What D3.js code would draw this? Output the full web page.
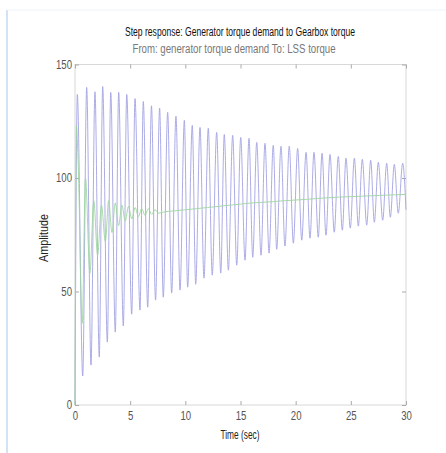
<!DOCTYPE html>
<html>
<head>
<meta charset="utf-8">
<script src="https://cdn.jsdelivr.net/npm/d3@7"></script>
<style>
  body { margin: 0; background: #fff; }
  text { font-family: "Liberation Sans", Arial, sans-serif; }
</style>
</head>
<body>
<div id="chart"></div>
<script>
// blue: peaks and troughs (time in sec, amplitude)
const bluePeakT = [0.21, 1.06, 1.81, 2.51, 3.24, 3.96, 4.69, 5.44, 6.19, 6.93, 7.67, 8.40, 9.15, 9.91,
  10.63, 11.33, 12.08, 12.84, 13.53, 14.29, 15.02, 15.77, 16.47, 17.22, 17.97, 18.67, 19.42, 20.18,
  20.94, 21.66, 22.39, 23.11, 23.86, 24.56, 25.32, 26.04, 26.80, 27.49, 28.25, 28.94, 29.70];
const bluePeakV = [136.8, 139.9, 138, 140.3, 137.7, 137.7, 136.8, 135, 133.7, 131.8, 130.8, 128.9, 127.2,
  125.4, 123.2, 122.3, 121.9, 120.1, 119.2, 118.8, 117.9, 117.5, 115.7, 115.3, 114.4, 114, 114, 113,
  111.3, 111.3, 110.9, 110.4, 109.5, 108.7, 108.7, 108.2, 107.8, 106.9, 106.5, 106, 106.5];
const blueTroughT = [0.70, 1.45, 2.20, 2.93, 3.65, 4.38, 5.14, 5.89, 6.59, 7.30, 8.00, 8.76, 9.52, 10.21,
  10.94, 11.69, 12.44, 13.21, 13.90, 14.66, 15.41, 16.11, 16.86, 17.59, 18.28, 19.03, 19.79, 20.55,
  21.30, 22.05, 22.75, 23.50, 24.23, 24.95, 25.68, 26.44, 27.13, 27.89, 28.58, 29.30];
const blueTroughV = [12.8, 17.6, 21.1, 27.7, 32.1, 34.8, 40.0, 41.8, 43.1, 46.2, 47.5, 49.3, 50.6, 51.9,
  53.2, 55.9, 57.2, 58.1, 59.4, 61.6, 63.8, 65.1, 66, 66.9, 68.6, 70, 71.3, 72.6, 73.5, 73.9, 74.8,
  76.1, 77, 77.9, 78.8, 79.2, 80.5, 81.4, 82.7, 84.5];
const blueStart = [0, 0];
const blueEnd = [30, 86];

// green response
const greenT = [0, 0.05, 0.12, 0.3, 0.65, 0.95, 1.35, 1.7, 2.05, 2.4, 2.75, 3.05, 3.35, 3.65, 3.95,
  4.25, 4.55, 4.85, 5.15, 5.45, 5.75, 6.05, 6.35, 6.65, 6.95, 7.25, 7.6, 8, 9, 10, 11, 12, 13, 14, 15,
  16, 17, 18, 19, 20, 21, 22, 23, 24, 25, 26, 27, 28, 29, 30];
const greenV = [0, 70, 123, 105, 36, 100, 58, 90, 66, 88, 72, 90, 76, 89, 79, 88, 81, 87.5, 82, 87, 83,
  86.5, 83.5, 86.5, 84, 86, 84.5, 85, 85.5, 86, 86.5, 87, 87.5, 88, 88.5, 89, 89.3, 89.6, 90, 90.3,
  90.6, 91, 91.3, 91.6, 91.8, 92, 92.2, 92.4, 92.6, 92.8];

const xTicks = [0, 5, 10, 15, 20, 25, 30];
const yTicks = [0, 50, 100, 150];

const W = 446, H = 453;
const svg = d3.select("#chart").append("svg")
    .attr("width", W)
    .attr("height", H);

// squeeze text horizontally to look like the narrow original font
function narrow(sel, f) {
    sel.each(function () {
        const len = this.getComputedTextLength();
        d3.select(this).attr("textLength", len * f).attr("lengthAdjust", "spacingAndGlyphs");
    });
}

// figure frame
svg.append("line").attr("x1", 7).attr("x2", 7).attr("y1", 10).attr("y2", H)
    .attr("stroke", "#c3daf1").attr("stroke-width", 1.5);
svg.append("line").attr("x1", 7).attr("x2", W).attr("y1", 10).attr("y2", 10)
    .attr("stroke", "#eef4fb").attr("stroke-width", 1);

const x = d3.scaleLinear().domain([0, 30]).range([75, 406]);
const y = d3.scaleLinear().domain([0, 150]).range([405, 64.5]);

// axes box
svg.append("rect")
    .attr("x", x(0)).attr("y", y(150))
    .attr("width", x(30) - x(0)).attr("height", y(0) - y(150))
    .attr("fill", "none").attr("stroke", "#d8d8d8");

function styleAxis(g) {
    g.select(".domain").remove();
    g.selectAll(".tick line").attr("stroke", "#aaa");
    g.selectAll(".tick text").attr("fill", "#555").style("font-size", "12px");
}

svg.append("g")
    .attr("transform", "translate(0," + y(0) + ")")
    .call(d3.axisBottom(x).tickValues(xTicks).tickSize(-4).tickPadding(6))
    .call(styleAxis)
    .selectAll(".tick text").call(narrow, 0.8);
svg.append("g")
    .attr("transform", "translate(0," + y(150) + ")")
    .call(d3.axisTop(x).tickValues(xTicks).tickSize(-4).tickFormat(""))
    .call(styleAxis);
svg.append("g")
    .attr("transform", "translate(" + x(0) + ",0)")
    .call(d3.axisLeft(y).tickValues(yTicks).tickSize(-4).tickPadding(3))
    .call(styleAxis)
    .selectAll(".tick text").call(narrow, 0.8);
svg.append("g")
    .attr("transform", "translate(" + x(30) + ",0)")
    .call(d3.axisRight(y).tickValues(yTicks).tickSize(-4).tickFormat(""))
    .call(styleAxis);

// build blue series
let blue = [blueStart];
bluePeakT.forEach((t, i) => blue.push([t, bluePeakV[i]]));
blueTroughT.forEach((t, i) => blue.push([t, blueTroughV[i]]));
blue.push(blueEnd);
blue.sort((a, b) => a[0] - b[0]);

const green = greenT.map((t, i) => [t, greenV[i]]);

const line = d3.line()
    .x(d => x(d[0]))
    .y(d => y(d[1]))
    .curve(d3.curveMonotoneX);

svg.append("path")
    .datum(blue)
    .attr("d", line)
    .attr("fill", "none")
    .attr("stroke", "#a3a3e3")
    .attr("stroke-width", 0.9);

svg.append("path")
    .datum(green)
    .attr("d", line)
    .attr("fill", "none")
    .attr("stroke", "#9ed69e")
    .attr("stroke-width", 0.9);

// titles
svg.append("text")
    .attr("x", 240).attr("y", 36)
    .attr("text-anchor", "middle")
    .style("font-size", "12px")
    .attr("fill", "#111")
    .attr("textLength", 230).attr("lengthAdjust", "spacingAndGlyphs")
    .text("Step response: Generator torque demand to Gearbox torque");
svg.append("text")
    .attr("x", 234).attr("y", 53)
    .attr("text-anchor", "middle")
    .style("font-size", "12px")
    .attr("fill", "#777")
    .attr("textLength", 203).attr("lengthAdjust", "spacingAndGlyphs")
    .text("From: generator torque demand  To: LSS torque");

svg.append("text")
    .attr("x", 240).attr("y", 439)
    .attr("text-anchor", "middle")
    .style("font-size", "12px")
    .attr("fill", "#222")
    .attr("textLength", 39).attr("lengthAdjust", "spacingAndGlyphs")
    .text("Time (sec)");
svg.append("text")
    .attr("transform", "translate(48,238) rotate(-90)")
    .attr("text-anchor", "middle")
    .style("font-size", "12px")
    .attr("fill", "#222")
    .attr("textLength", 48).attr("lengthAdjust", "spacingAndGlyphs")
    .text("Amplitude");
</script>
</body>
</html>
